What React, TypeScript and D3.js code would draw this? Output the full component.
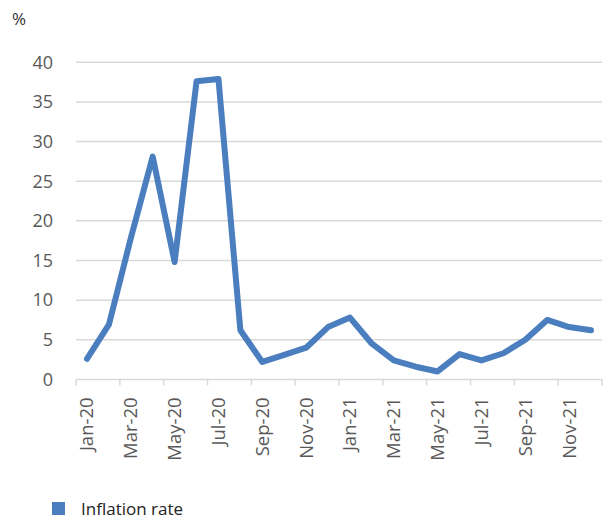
import React from "react";
import * as d3 from "d3";

const months = [
  "Jan-20","Feb-20","Mar-20","Apr-20","May-20","Jun-20","Jul-20","Aug-20","Sep-20","Oct-20","Nov-20","Dec-20",
  "Jan-21","Feb-21","Mar-21","Apr-21","May-21","Jun-21","Jul-21","Aug-21","Sep-21","Oct-21","Nov-21","Dec-21",
];
const inflation = [
  2.6, 6.9, 17.8, 28.1, 14.8, 37.6, 37.9, 6.2, 2.2, 3.1, 4.0, 6.6,
  7.8, 4.5, 2.4, 1.6, 1.0, 3.2, 2.4, 3.3, 5.0, 7.5, 6.6, 6.2,
];
const yTicks = [0, 5, 10, 15, 20, 25, 30, 35, 40];
const seriesName = "Inflation rate";
const unitLabel = "%";

const W = 606;
const H = 520;
const left = 76;
const right = 602;
const top = 62.3;
const bottom = 379.4;
const font = "'Open Sans', 'Noto Sans', sans-serif";
const textColor = "#595959";
const gridColor = "#d9d9d9";
const lineColor = "#4a7ebf";

export default function App() {
  const x = d3.scaleBand<string>().domain(months).range([left, right]).paddingInner(0).paddingOuter(0);
  const y = d3.scaleLinear().domain([0, 40]).range([bottom, top]);
  const cx = (m: string) => (x(m) as number) + x.bandwidth() / 2;
  const line = d3
    .line<number>()
    .x((_, i) => cx(months[i]))
    .y((d) => y(d))
    .curve(d3.curveLinear);

  const tickIdx = d3.range(0, months.length + 1, 2);

  return (
    <svg width={W} height={H} style={{ position: "absolute", left: 0, top: 0 }}>
      <rect width={W} height={H} fill="#fff" />
      <text x={12} y={25} fontFamily={font} fontSize={17} fill="#333">{unitLabel}</text>
      {yTicks.map((t) => (
        <g key={t}>
          {t !== 0 && (
            <line x1={left} x2={right} y1={y(t)} y2={y(t)} stroke={gridColor} strokeWidth={1.5} />
          )}
          <text x={53} y={y(t)} dy="0.35em" textAnchor="end" fontFamily={font} fontSize={18} fill={textColor}>
            {t}
          </text>
        </g>
      ))}
      <line x1={left} x2={right} y1={bottom} y2={bottom} stroke={gridColor} strokeWidth={1.5} />
      {tickIdx.map((i) => {
        const xx = left + i * x.bandwidth();
        return <line key={i} x1={xx} x2={xx} y1={bottom} y2={bottom + 6} stroke={gridColor} strokeWidth={1.5} />;
      })}
      {months.map((m, i) =>
        i % 2 === 0 ? (
          <text
            key={m}
            transform={`translate(${cx(m)},${bottom + 18}) rotate(-90)`}
            dy="0.35em"
            textAnchor="end"
            fontFamily={font}
            fontSize={18.5}
            fill={textColor}
          >
            {m}
          </text>
        ) : null
      )}
      <path d={line(inflation) || ""} fill="none" stroke={lineColor} strokeWidth={6} strokeLinejoin="round" strokeLinecap="round" />
      <rect x={52} y={502} width={13} height={13} fill={lineColor} />
      <text x={81} y={514.5} fontFamily={font} fontSize={17} fill="#222">{seriesName}</text>
    </svg>
  );
}
